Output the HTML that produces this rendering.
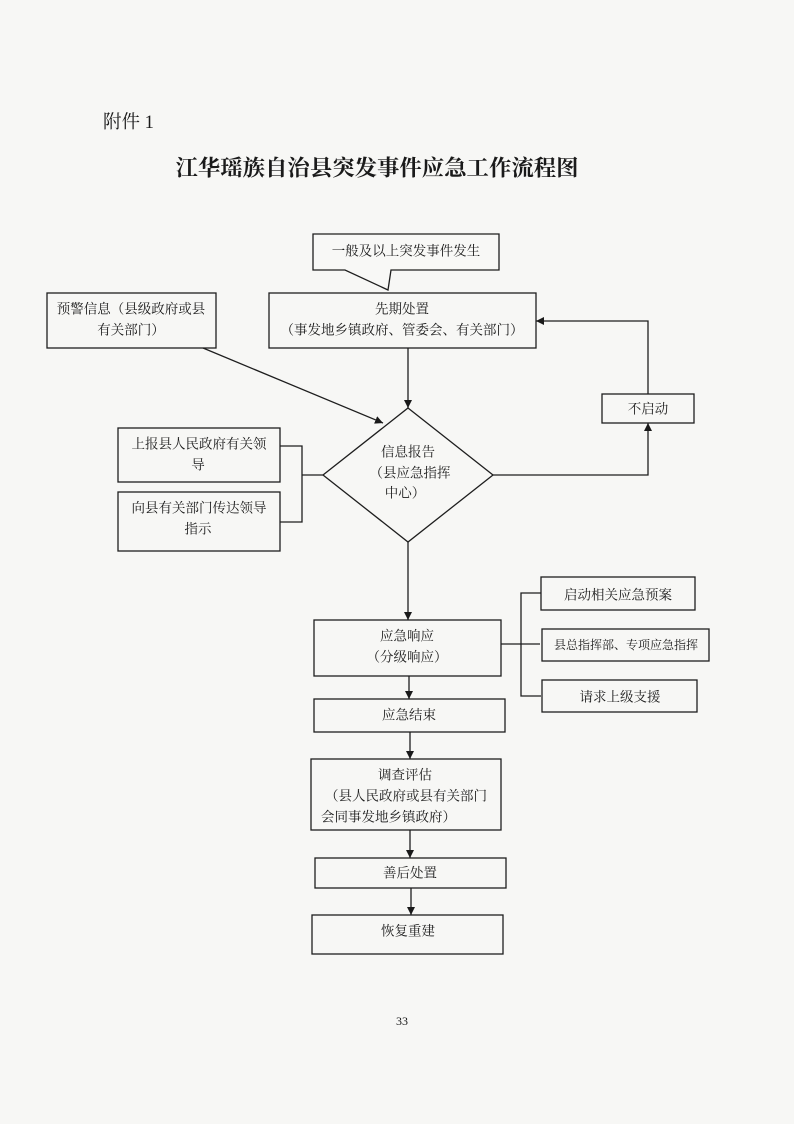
<!DOCTYPE html>
<html><head><meta charset="utf-8"><style>
html,body{margin:0;padding:0;background:#f7f7f5;}
svg{display:block;}
text{font-family:"Liberation Serif","Noto Serif CJK SC",serif;fill:#1a1a1a;}
</style></head><body>
<svg width="794" height="1124" viewBox="0 0 794 1124" xmlns="http://www.w3.org/2000/svg">
<rect width="794" height="1124" fill="#f7f7f5"/>
<defs>
<marker id="a" viewBox="0 0 10 10" refX="10" refY="5" markerWidth="8" markerHeight="8" markerUnits="userSpaceOnUse" orient="auto">
<path d="M0,0 L10,5 L0,10 z" fill="#1a1a1a"/>
</marker>
</defs>
<text x="103" y="123" font-size="18.5" dominant-baseline="central">附件 1</text>
<text x="377" y="168" font-size="22.4" font-weight="700" text-anchor="middle" dominant-baseline="central">江华瑶族自治县突发事件应急工作流程图</text>

<g fill="none" stroke="#1e1e1e" stroke-width="1.3">
<path d="M313,234 L499,234 L499,270 L391,270 L388,290 L345,270 L313,270 Z" fill="#f8f8f6"/>
<rect x="269" y="293" width="267" height="55"/>
<rect x="47" y="293" width="169" height="55"/>
<rect x="118" y="428" width="162" height="54"/>
<rect x="118" y="492" width="162" height="59"/>
<polygon points="408,408 493,475 408,542 323,475"/>
<rect x="602" y="394" width="92" height="29"/>
<rect x="314" y="620" width="187" height="56"/>
<rect x="314" y="699" width="191" height="33"/>
<rect x="311" y="759" width="190" height="71"/>
<rect x="315" y="858" width="191" height="30"/>
<rect x="312" y="915" width="191" height="39"/>
<rect x="541" y="577" width="154" height="33"/>
<rect x="542" y="629" width="167" height="32"/>
<rect x="542" y="680" width="155" height="32"/>

<line x1="203" y1="348" x2="383" y2="423" marker-end="url(#a)"/>
<line x1="408" y1="348" x2="408" y2="408" marker-end="url(#a)"/>
<polyline points="280,446 302,446 302,522 280,522"/>
<line x1="302" y1="475" x2="323" y2="475"/>
<polyline points="493,475 648,475 648,423" marker-end="url(#a)"/>
<polyline points="648,394 648,321 536,321" marker-end="url(#a)"/>
<line x1="408" y1="542" x2="408" y2="620" marker-end="url(#a)"/>
<line x1="409" y1="676" x2="409" y2="699" marker-end="url(#a)"/>
<line x1="410" y1="732" x2="410" y2="759" marker-end="url(#a)"/>
<line x1="410" y1="830" x2="410" y2="858" marker-end="url(#a)"/>
<line x1="411" y1="888" x2="411" y2="915" marker-end="url(#a)"/>
<polyline points="541,593 521,593 521,696 541,696"/>
<line x1="501" y1="644" x2="540" y2="644"/>
</g>

<g font-size="13.5" text-anchor="middle" dominant-baseline="central">
<text x="406" y="251">一般及以上突发事件发生</text>
<text x="402" y="309">先期处置</text>
<text x="402" y="330">（事发地乡镇政府、管委会、有关部门）</text>
<text x="131" y="309">预警信息（县级政府或县</text>
<text x="131" y="330">有关部门）</text>
<text x="199" y="444">上报县人民政府有关领</text>
<text x="198" y="465">导</text>
<text x="199" y="508">向县有关部门传达领导</text>
<text x="198" y="529">指示</text>
<text x="408" y="452">信息报告</text>
<text x="410" y="473">（县应急指挥</text>
<text x="405" y="493">中心）</text>
<text x="648" y="409">不启动</text>
<text x="407" y="636">应急响应</text>
<text x="407" y="657">（分级响应）</text>
<text x="409" y="715">应急结束</text>
<text x="405" y="775">调查评估</text>
<text x="406" y="796">（县人民政府或县有关部门</text>
<text x="321" y="817" text-anchor="start">会同事发地乡镇政府）</text>
<text x="410" y="873">善后处置</text>
<text x="408" y="931">恢复重建</text>
<text x="618" y="595">启动相关应急预案</text>
<text x="626" y="645" font-size="12">县总指挥部、专项应急指挥</text>
<text x="620" y="697">请求上级支援</text>
</g>
<text x="402" y="1021" font-size="12" text-anchor="middle" dominant-baseline="central">33</text>
</svg>
</body></html>
